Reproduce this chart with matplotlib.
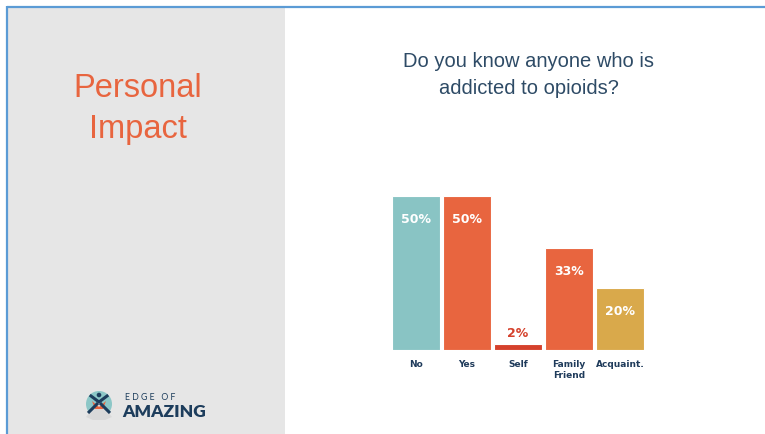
import matplotlib.pyplot as plt
from matplotlib.patches import Rectangle, Circle, Polygon

# survey answers
categories = ['No', 'Yes', 'Self', 'Family\nFriend', 'Acquaint.']
percents = [50, 50, 2, 33, 20]
bar_colors = ['#89C4C4', '#E8653F', '#D5412C', '#E8653F', '#D9A94B']

title = 'Do you know anyone who is\naddicted to opioids?'
section = 'Personal\nImpact'

W, H = 765, 435
fig = plt.figure(figsize=(W / 100, H / 100), dpi=100)

# page layer in pixel coordinates (y grows downwards)
bg = fig.add_axes([0, 0, 1, 1])
bg.set_xlim(0, W)
bg.set_ylim(H, 0)
bg.axis('off')

bg.add_patch(Rectangle((8, 8), 277, H - 8, color='#E6E6E6', lw=0))
bg.plot([7, W], [7.5, 7.5], color='#5B9BD5', lw=1.6, solid_capstyle='butt')
bg.plot([7, 7], [7, H], color='#5B9BD5', lw=1.6, solid_capstyle='butt')

bg.text(138, 109, section, color='#E8653F', fontsize=23.5, ha='center', va='center',
        family='Liberation Sans', linespacing=1.45)
bg.text(529, 75, title, color='#2E4B66', fontsize=14.5, ha='center', va='center',
        family='Liberation Sans', linespacing=1.5)

# logo mark
bg.add_patch(Circle((99, 405), 13, color='#8CC7C7', lw=0))
bg.add_patch(Polygon([[86, 418], [99, 402], [112, 418], [105, 421], [93, 421]],
                     closed=True, color='#D9D9D9', lw=0))
bg.add_patch(Polygon([[92, 402], [99, 408], [106, 402], [103, 410], [95, 410]],
                     closed=True, color='#E8653F', lw=0))
bg.plot([88, 98], [414, 404], color='#1D3D5C', lw=2.2, solid_capstyle='butt')
bg.plot([110, 100], [414, 404], color='#1D3D5C', lw=2.2, solid_capstyle='butt')
bg.plot([91, 99, 107], [397, 403, 397], color='#1D3D5C', lw=2.2)
bg.add_patch(Circle((99, 396), 2.3, color='#1D3D5C', lw=0))
bg.text(125, 398, 'E D G E   O F', color='#1D3D5C', fontsize=6.3, ha='left', va='center',
        family='Lato')
bg.text(122, 412, 'AMAZING', color='#1D3D5C', fontsize=12.5, ha='left', va='center',
        family='Lato', fontweight='heavy')

# bar chart
left, base, unit = 390.5, 350.7, 153.4 / 50
ax = fig.add_axes([left / W, (H - base) / H, 255 / W, unit * 55 / H])
ax.set_xlim(-0.5, 4.5)
ax.set_ylim(0, 55)
ax.axis('off')

x = range(len(categories))
bars = ax.bar(x, percents, width=0.93, color=bar_colors, edgecolor='white', linewidth=0.8)

for i, (b, v) in enumerate(zip(bars, percents)):
    cx = b.get_x() + b.get_width() / 2
    if v < 10:
        ax.annotate(f'{v}%', (cx, v), xytext=(0, 3), textcoords='offset points',
                    ha='center', va='bottom', color=bar_colors[i], fontsize=9,
                    fontweight='bold', family='DejaVu Sans')
    else:
        ax.annotate(f'{v}%', (cx, v), xytext=(0, -16), textcoords='offset points',
                    ha='center', va='center', color='white', fontsize=9,
                    fontweight='bold', family='DejaVu Sans')
    ax.annotate(categories[i], (cx, 0), xytext=(0, -7), textcoords='offset points',
                ha='center', va='top', color='#1F3B5B', fontsize=6.5,
                fontweight='bold', family='DejaVu Sans', linespacing=1.25)

fig.savefig('out.png', dpi=100)
